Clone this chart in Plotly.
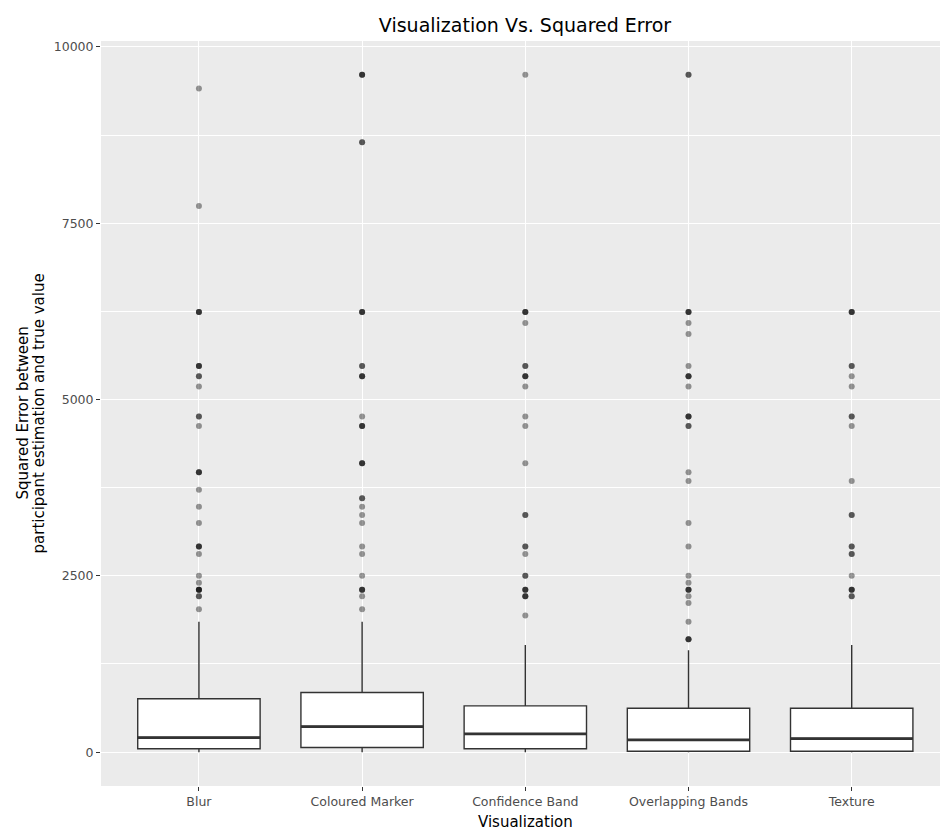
import plotly.graph_objects as go

# Visualization types (x categories)
categories = ["Blur", "Coloured Marker", "Confidence Band", "Overlapping Bands", "Texture"]

# Box summary statistics of squared error per visualization
q1_vals = [47, 66, 47, 12, 12]
median_vals = [207, 363, 259, 175, 193]
q3_vals = [757, 845, 656, 623, 623]
lower_whisker = [0, 0, 0, 0, 0]
upper_whisker = [1849, 1849, 1521, 1444, 1521]

# Outlying squared errors and how many responses share each value
blur_outliers = [9409, 7744, 6241, 5476, 5329, 5184, 4761, 4624, 3969, 3721, 3481, 3249,
                 2916, 2809, 2500, 2401, 2304, 2209, 2025]
blur_counts = [1, 1, 3, 3, 2, 1, 2, 1, 3, 1, 1, 1, 3, 1, 1, 1, 4, 2, 1]

cm_outliers = [9604, 8649, 6241, 5476, 5329, 4761, 4624, 4096, 3600, 3481, 3364, 3249,
               2916, 2809, 2500, 2304, 2209, 2025]
cm_counts = [3, 2, 3, 2, 3, 1, 3, 3, 2, 1, 1, 1, 1, 1, 1, 3, 1, 1]

cb_outliers = [9604, 6241, 6084, 5476, 5329, 5184, 4761, 4624, 4096, 3364, 2916, 2809,
               2500, 2304, 2209, 1936]
cb_counts = [1, 3, 1, 2, 3, 1, 1, 1, 1, 2, 2, 1, 2, 3, 3, 1]

ob_outliers = [9604, 6241, 6084, 5929, 5476, 5329, 5184, 4761, 4624, 3969, 3844, 3249,
               2916, 2500, 2401, 2304, 2209, 2116, 1849, 1600]
ob_counts = [2, 3, 1, 1, 1, 3, 1, 3, 2, 1, 1, 1, 1, 1, 1, 3, 1, 1, 1, 3]

tx_outliers = [6241, 5476, 5329, 5184, 4761, 4624, 3844, 3364, 2916, 2809, 2500, 2304, 2209]
tx_counts = [3, 2, 1, 1, 2, 1, 1, 2, 2, 2, 1, 3, 2]

outlier_values = [blur_outliers, cm_outliers, cb_outliers, ob_outliers, tx_outliers]
outlier_counts = [blur_counts, cm_counts, cb_counts, ob_counts, tx_counts]

y_ticks = [0, 2500, 5000, 7500, 10000]

BOX_WIDTH = 0.75
EDGE = "#333333"
FONT = "DejaVu Sans, Liberation Sans, Arial, sans-serif"

fig = go.Figure()

for i, name in enumerate(categories):
    fig.add_trace(go.Box(
        x=[i], q1=[q1_vals[i]], median=[median_vals[i]], q3=[q3_vals[i]],
        lowerfence=[lower_whisker[i]], upperfence=[upper_whisker[i]],
        width=BOX_WIDTH, whiskerwidth=0, boxpoints=False,
        fillcolor="white", line=dict(color=EDGE, width=1.4),
        name=name, showlegend=False, hoverinfo="skip",
    ))
    # thicker median bar, as in ggplot's default boxplot
    fig.add_trace(go.Scatter(
        x=[i - BOX_WIDTH / 2, i + BOX_WIDTH / 2], y=[median_vals[i], median_vals[i]],
        mode="lines", line=dict(color=EDGE, width=2.8),
        showlegend=False, hoverinfo="skip",
    ))
    # semi-transparent outliers: repeated values stack and look darker
    xs, ys = [], []
    for v, c in zip(outlier_values[i], outlier_counts[i]):
        xs += [i] * c
        ys += [v] * c
    fig.add_trace(go.Scatter(
        x=xs, y=ys, mode="markers",
        marker=dict(color="black", opacity=0.4, size=6, line=dict(width=0)),
        showlegend=False, hoverinfo="skip",
    ))

fig.update_layout(
    width=940, height=837,
    margin=dict(l=101, r=0, t=41, b=51),
    paper_bgcolor="white", plot_bgcolor="#EBEBEB",
    font=dict(family=FONT, color="black"),
    title=dict(text="Visualization Vs. Squared Error", x=525 / 940, xref="container",
               xanchor="center", y=1 - 25 / 837, yref="container", yanchor="middle",
               font=dict(size=19, color="black", family=FONT)),
    xaxis=dict(
        range=[-0.6, 4.541], tickvals=list(range(len(categories))), ticktext=categories,
        showgrid=True, gridcolor="white", gridwidth=1.1, zeroline=False,
        ticks="outside", ticklen=4, tickwidth=1.1, tickcolor=EDGE,
        tickfont=dict(size=12.5, color="#4D4D4D", family=FONT), showline=False,
    ),
    yaxis=dict(
        range=[-480.2, 10084.2], tickvals=y_ticks, ticktext=[str(t) for t in y_ticks],
        showgrid=True, gridcolor="white", gridwidth=1.1, zeroline=False,
        minor=dict(dtick=1250, tick0=0, showgrid=True, gridcolor="white", gridwidth=0.55),
        ticks="outside", ticklen=4, tickwidth=1.1, tickcolor=EDGE,
        tickfont=dict(size=12.5, color="#4D4D4D", family=FONT), showline=False,
    ),
    annotations=[
        dict(text="Visualization", x=2, xref="x", y=-36 / 745, yref="paper",
             xanchor="center", yanchor="middle", showarrow=False,
             font=dict(size=15, color="black", family=FONT)),
        dict(text="Squared Error between", x=-(101 - 22) / 839, xref="paper",
             y=0.5, yref="paper", textangle=-90, xanchor="center", yanchor="middle",
             showarrow=False, font=dict(size=15, color="black", family=FONT)),
        dict(text="participant estimation and true value", x=-(101 - 38) / 839,
             xref="paper", y=0.5, yref="paper", textangle=-90, xanchor="center",
             yanchor="middle", showarrow=False,
             font=dict(size=15, color="black", family=FONT)),
    ],
)

fig.write_html("out.html")
